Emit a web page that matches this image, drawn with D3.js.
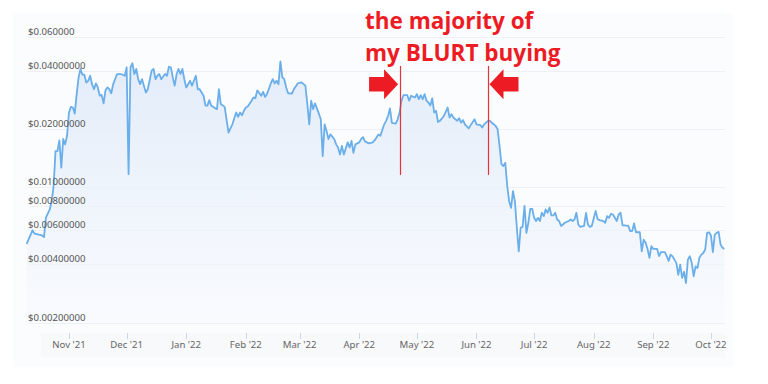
<!DOCTYPE html>
<html>
<head>
<meta charset="utf-8">
<script src="https://cdn.jsdelivr.net/npm/d3@7"></script>
<style>
  html, body { margin: 0; padding: 0; background: #ffffff; }
  svg { display: block; }
</style>
</head>
<body>
<svg id="chart" width="768" height="384"></svg>
<script>
// ---- data ----
const dates = [
"2021-10-10","2021-10-13","2021-10-14","2021-10-18","2021-10-19","2021-10-20","2021-10-22","2021-10-23","2021-10-24","2021-10-25",
"2021-10-26","2021-10-27","2021-10-28","2021-10-29","2021-10-30","2021-10-31",
"2021-11-01","2021-11-02","2021-11-03","2021-11-04","2021-11-05","2021-11-06","2021-11-07","2021-11-08","2021-11-09","2021-11-10",
"2021-11-11","2021-11-12","2021-11-13","2021-11-14","2021-11-15","2021-11-16","2021-11-17","2021-11-18","2021-11-19","2021-11-20",
"2021-11-21","2021-11-22","2021-11-23","2021-11-24","2021-11-26","2021-11-28","2021-11-30",
"2021-12-01","2021-12-02","2021-12-03","2021-12-04","2021-12-05","2021-12-06","2021-12-07","2021-12-08","2021-12-09","2021-12-11",
"2021-12-12","2021-12-14","2021-12-15","2021-12-16","2021-12-17","2021-12-18","2021-12-19","2021-12-21","2021-12-22","2021-12-23",
"2021-12-24","2021-12-25","2021-12-26","2021-12-27","2021-12-28","2021-12-29","2021-12-30","2021-12-31",
"2022-01-01","2022-01-02","2022-01-03","2022-01-04","2022-01-06","2022-01-07","2022-01-08","2022-01-10","2022-01-11","2022-01-12",
"2022-01-13","2022-01-14","2022-01-16","2022-01-17","2022-01-18","2022-01-19","2022-01-21","2022-01-23","2022-01-24","2022-01-25",
"2022-01-27","2022-01-28","2022-01-29","2022-01-30","2022-01-31",
"2022-02-01","2022-02-02","2022-02-04","2022-02-05","2022-02-06","2022-02-07","2022-02-09","2022-02-10","2022-02-11","2022-02-12",
"2022-02-14","2022-02-15","2022-02-16","2022-02-17","2022-02-18","2022-02-19","2022-02-20","2022-02-21","2022-02-22","2022-02-23",
"2022-02-25","2022-02-26","2022-02-28",
"2022-03-02","2022-03-04","2022-03-05","2022-03-06","2022-03-07","2022-03-08","2022-03-09","2022-03-11","2022-03-12","2022-03-13",
"2022-03-14","2022-03-15","2022-03-16","2022-03-17","2022-03-19","2022-03-20","2022-03-21","2022-03-22","2022-03-23","2022-03-24",
"2022-03-26","2022-03-27","2022-03-28","2022-03-29","2022-03-30",
"2022-04-01","2022-04-02","2022-04-03","2022-04-04","2022-04-06","2022-04-08","2022-04-09","2022-04-11","2022-04-12","2022-04-14",
"2022-04-15","2022-04-16","2022-04-17","2022-04-18","2022-04-20","2022-04-21","2022-04-22","2022-04-23","2022-04-24","2022-04-26",
"2022-04-27","2022-04-28","2022-04-30",
"2022-05-01","2022-05-02","2022-05-03","2022-05-04","2022-05-05","2022-05-06","2022-05-07","2022-05-08","2022-05-09","2022-05-10",
"2022-05-11","2022-05-12","2022-05-13","2022-05-15","2022-05-17","2022-05-18","2022-05-19","2022-05-20","2022-05-22","2022-05-23",
"2022-05-24","2022-05-25","2022-05-26","2022-05-28","2022-05-29","2022-05-31",
"2022-06-01","2022-06-03","2022-06-04","2022-06-05","2022-06-07","2022-06-08","2022-06-09","2022-06-11","2022-06-12","2022-06-13",
"2022-06-14","2022-06-15","2022-06-16","2022-06-17","2022-06-18","2022-06-19","2022-06-20","2022-06-21","2022-06-22","2022-06-23",
"2022-06-24","2022-06-25","2022-06-26","2022-06-27","2022-06-28","2022-06-29","2022-06-30",
"2022-07-01","2022-07-02","2022-07-03","2022-07-04","2022-07-05","2022-07-06","2022-07-07","2022-07-08","2022-07-09","2022-07-10",
"2022-07-11","2022-07-12","2022-07-13","2022-07-14","2022-07-15","2022-07-16","2022-07-17","2022-07-19","2022-07-20","2022-07-21",
"2022-07-22","2022-07-23","2022-07-24","2022-07-25","2022-07-27","2022-07-28","2022-07-29","2022-07-30","2022-07-31",
"2022-08-02","2022-08-03","2022-08-04","2022-08-06","2022-08-07","2022-08-08","2022-08-09","2022-08-10","2022-08-11","2022-08-13",
"2022-08-14","2022-08-15","2022-08-16","2022-08-17","2022-08-19","2022-08-20","2022-08-21","2022-08-22","2022-08-23","2022-08-25",
"2022-08-26","2022-08-27","2022-08-28","2022-08-29","2022-08-30","2022-08-31",
"2022-09-01","2022-09-02","2022-09-03","2022-09-04","2022-09-05","2022-09-07","2022-09-08","2022-09-09","2022-09-10","2022-09-11",
"2022-09-12","2022-09-13","2022-09-14","2022-09-15","2022-09-16","2022-09-17","2022-09-18","2022-09-19","2022-09-20","2022-09-21",
"2022-09-22","2022-09-23","2022-09-24","2022-09-25","2022-09-26","2022-09-27","2022-09-28","2022-09-29","2022-09-30",
"2022-10-01","2022-10-02","2022-10-03","2022-10-04","2022-10-05","2022-10-06","2022-10-07","2022-10-08"
];
const prices = [
0.00510,0.00600,0.00577,0.00564,0.00553,0.00697,0.00769,0.00849,0.0102,0.0154,
0.0154,0.0175,0.01265,0.0178,0.0167,0.0185,
0.0244,0.0261,0.0259,0.0241,0.0304,0.0371,0.0410,0.0383,0.0383,0.0349,
0.0356,0.0378,0.0342,0.0322,0.0345,0.0329,0.0298,0.0301,0.0272,0.0318,
0.0329,0.0322,0.0307,0.0342,0.0386,0.0386,0.0378,
0.0418,0.0117,0.0418,0.0439,0.0386,0.0410,0.0363,0.0342,0.0363,0.0310,
0.0322,0.0402,0.0410,0.0363,0.0378,0.0386,0.0363,0.0386,0.0378,0.0421,
0.0418,0.0371,0.0336,0.0386,0.0410,0.0386,0.0410,0.0363,
0.0329,0.0342,0.0356,0.0336,0.0378,0.0322,0.0322,0.0298,0.0265,0.0265,
0.0283,0.0265,0.0257,0.0254,0.0322,0.0270,0.0261,0.0192,0.0202,0.0212,
0.0244,0.0232,0.0244,0.0236,0.0249,
0.0259,0.0262,0.0281,0.0292,0.0290,0.0318,0.0298,0.0312,0.0294,0.0304,
0.0345,0.0363,0.0345,0.0356,0.0342,0.0449,0.0371,0.0363,0.0329,0.0307,
0.0306,0.0322,0.0345,
0.0349,0.0336,0.0270,0.0212,0.0281,0.0254,0.0272,0.0241,0.0225,0.0145,
0.0212,0.0196,0.0178,0.0188,0.0178,0.0167,0.0161,0.0148,0.0164,0.0148,
0.0171,0.0161,0.0174,0.0151,0.0167,
0.0171,0.0178,0.0182,0.0173,0.0169,0.0171,0.0175,0.0188,0.0185,0.0212,
0.0221,0.0234,0.0256,0.0216,0.0214,0.0225,0.0244,0.0281,0.0300,0.0300,
0.0281,0.0298,0.0292,
0.0304,0.0286,0.0300,0.0286,0.0304,0.0281,0.0275,0.0265,0.0289,0.0244,
0.0249,0.0218,0.0221,0.0234,0.0259,0.0230,0.0239,0.0230,0.0221,0.0228,
0.0216,0.0223,0.0212,0.0202,0.0210,0.0225,
0.0212,0.0210,0.0204,0.0212,0.0221,0.0221,0.0216,0.0208,0.0200,0.0164,
0.0132,0.0129,0.0134,0.0102,0.00849,0.00784,0.00957,0.00846,0.00620,0.00467,
0.00618,0.00625,0.00803,0.00582,0.00656,0.00775,0.00775,
0.00696,0.00670,0.00696,0.00670,0.00739,0.00710,0.00769,0.00739,0.00787,0.00716,
0.00716,0.00739,0.00682,0.00670,0.00632,0.00643,0.00656,0.00670,0.00682,0.00670,
0.00682,0.00739,0.00643,0.00625,0.00632,0.00739,0.00643,0.00625,0.00632,
0.00756,0.00687,0.00677,0.00670,0.00656,0.00710,0.00696,0.00730,0.00724,0.00670,
0.00724,0.00739,0.00636,0.00636,0.00632,0.00594,0.00594,0.00651,0.00586,0.00586,
0.00467,0.00537,0.00517,0.00481,0.00432,0.00496,
0.00481,0.00481,0.00481,0.00441,0.00462,0.00462,0.00441,0.00416,0.00449,0.00440,
0.00423,0.00407,0.00353,0.00398,0.00340,0.00366,0.00320,0.00423,0.00440,0.00407,
0.00347,0.00390,0.00383,0.00433,0.00449,0.00458,0.00477,0.00582,0.00586,
0.00564,0.00462,0.00570,0.00582,0.00589,0.00506,0.00487,0.00481
];
const yTickValues = [0.06, 0.04, 0.02, 0.01, 0.008, 0.006, 0.004, 0.002];
const yTickLabels = ["$0.060000","$0.04000000","$0.02000000","$0.01000000","$0.00800000","$0.00600000","$0.00400000","$0.00200000"];
const xTickDates = ["2021-11-01","2021-12-01","2022-01-01","2022-02-01","2022-03-01","2022-04-01","2022-05-01","2022-06-01","2022-07-01","2022-08-01","2022-09-01","2022-10-01"];
const xTickLabels = ["Nov '21","Dec '21","Jan '22","Feb '22","Mar '22","Apr '22","May '22","Jun '22","Jul '22","Aug '22","Sep '22","Oct '22"];
const noteLines = ["the majority of", "my BLURT buying"];
const buyWindow = ["2022-04-22", "2022-06-07"];
const noteTop = 0.0425, noteBottom = 0.0116, arrowLevel = 0.0342;

// ---- layout ----
const W = 768, H = 384;
const gridLeft = 28, gridRight = 725;
const parse = d3.timeParse("%Y-%m-%d");
const data = dates.map((d, i) => ({ date: parse(d), value: prices[i] }));

const x = d3.scaleTime()
  .domain([parse("2021-10-10"), parse("2022-10-08")])
  .range([26.7, 724.4]);
const y = d3.scaleLog()
  .domain([0.002, 0.06])
  .range([322.5, 37]);

const svg = d3.select("#chart");

// card background
svg.append("rect").attr("x", 13).attr("y", 13).attr("width", 720).attr("height", 354)
  .attr("fill", "#fbfcfe");
svg.append("rect").attr("x", 41).attr("y", 333).attr("width", 684).attr("height", 24)
  .attr("fill", "#f8f9fb");

// gradient
const defs = svg.append("defs");
const grad = defs.append("linearGradient").attr("id", "areaGrad")
  .attr("x1", 0).attr("y1", 0).attr("x2", 0).attr("y2", 1);
grad.append("stop").attr("offset", "0%").attr("stop-color", "#dfeaf8").attr("stop-opacity", 0.9);
grad.append("stop").attr("offset", "100%").attr("stop-color", "#f6f9fe").attr("stop-opacity", 0.6);

// grid lines
svg.append("g").selectAll("line").data(yTickValues).join("line")
  .attr("x1", gridLeft).attr("x2", gridRight)
  .attr("y1", d => Math.round(y(d)) + 0.5).attr("y2", d => Math.round(y(d)) + 0.5)
  .attr("stroke", "#eef0f3").attr("stroke-width", 1);

// area + line
const area = d3.area()
  .x(d => x(d.date)).y0(y(0.002)).y1(d => y(d.value));
svg.append("path").datum(data).attr("d", area).attr("fill", "url(#areaGrad)");

const line = d3.line().x(d => x(d.date)).y(d => y(d.value));
svg.append("path").datum(data).attr("d", line)
  .attr("fill", "none").attr("stroke", "#6aaeea").attr("stroke-width", 1.8)
  .attr("stroke-linejoin", "round");

// y labels (on top of the series)
svg.append("g").selectAll("text").data(yTickValues).join("text")
  .attr("x", gridLeft).attr("y", d => y(d) - 2)
  .attr("font-family", "'Segoe UI', 'Noto Sans', sans-serif").attr("font-size", "9.6px")
  .attr("fill", "#555").text((d, i) => yTickLabels[i]);

// x axis ticks + labels
const xg = svg.append("g");
const xt = xTickDates.map(parse);
xg.selectAll("line").data(xt).join("line")
  .attr("x1", d => Math.round(x(d)) + 0.5).attr("x2", d => Math.round(x(d)) + 0.5)
  .attr("y1", 333).attr("y2", 339)
  .attr("stroke", "#ccd6eb").attr("stroke-width", 1);
xg.selectAll("text").data(xt).join("text")
  .attr("x", d => x(d)).attr("y", 348)
  .attr("text-anchor", "middle")
  .attr("font-family", "'Segoe UI', 'Noto Sans', sans-serif").attr("font-size", "9.6px")
  .attr("fill", "#666").text((d, i) => xTickLabels[i]);

// annotation
const red = "#ed1c24";
const bx = buyWindow.map(d => x(parse(d)));
svg.selectAll(".buyline").data(bx).join("line").attr("class", "buyline")
  .attr("x1", d => Math.round(d) + 0.5).attr("x2", d => Math.round(d) + 0.5)
  .attr("y1", y(noteTop)).attr("y2", y(noteBottom))
  .attr("stroke", "#e8323a").attr("stroke-width", 1.2);

const ay = y(arrowLevel);
function arrow(tipX, dir) {
  // dir = +1 pointing right, -1 pointing left
  const hl = 14, hh = 15, bl = 15, bh = 7.3;
  const pts = [
    [tipX, ay],
    [tipX - dir * hl, ay - hh],
    [tipX - dir * hl, ay - bh],
    [tipX - dir * (hl + bl), ay - bh],
    [tipX - dir * (hl + bl), ay + bh],
    [tipX - dir * hl, ay + bh],
    [tipX - dir * hl, ay + hh]
  ];
  svg.append("path").attr("d", "M" + pts.map(p => p.join(",")).join("L") + "Z").attr("fill", red);
}
arrow(bx[0] - 1.5, 1);
arrow(bx[1] + 1.5, -1);

svg.selectAll(".note").data(noteLines).join("text").attr("class", "note")
  .attr("x", 365).attr("y", (d, i) => 29 + i * 32)
  .attr("font-family", "'Open Sans', sans-serif").attr("font-weight", 700)
  .attr("font-size", "22.5px").attr("fill", red).text(d => d);
</script>
</body>
</html>
